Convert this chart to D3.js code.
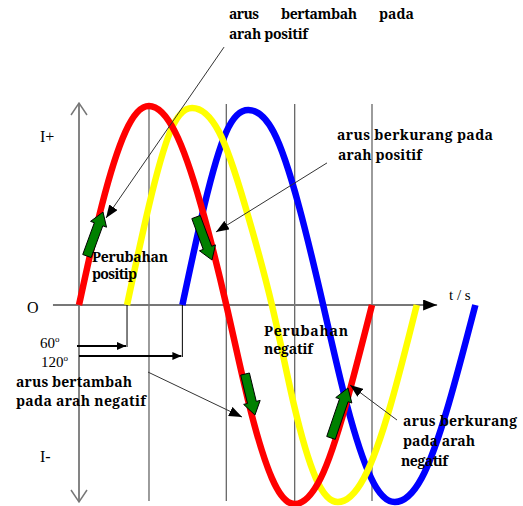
<!DOCTYPE html>
<html>
<head>
<meta charset="utf-8">
<script src="https://cdn.jsdelivr.net/npm/d3@7/dist/d3.min.js"></script>
<style>
body { margin: 0; background: #fff; }
svg { display: block; }
</style>
</head>
<body>
<div id="chart"></div>
<script>
// wave samples: [phase angle in degrees along t, current as fraction of peak]
var redWave = [[0,0],[28,0.5],[57,0.87],[86,1],[118,0.87],[150,0.5],[181,0],[209,-0.5],[237,-0.87],[265,-1],[297,-0.87],[328,-0.5],[360,0]];
var yellowWave = [[59,0],[86,0.5],[112,0.87],[139,0.99],[172,0.87],[204,0.5],[237,0],[264,-0.5],[291,-0.87],[318,-0.99],[350,-0.87],[383,-0.5],[415,0]];
var blueWave = [[127,0],[154,0.5],[181,0.87],[208,0.98],[239,0.87],[270,0.5],[300,0],[329,-0.5],[359,-0.87],[388,-0.99],[421,-0.87],[454,-0.5],[487,0]];

var gridDeg = [86, 181, 265, 360];   // thin vertical lines
var phaseDeg = [59, 127];            // where yellow / blue start
var phaseText = ["60", "120"];
var axisText = ["I+", "O", "I-", "t / s"];

var SERIF = "'Liberation Serif', 'Times New Roman', serif";
var NOTE_FONT = "'Noto Serif', 'Liberation Serif', serif";

WaveVis = function(_parentElement){
	this.parentElement = _parentElement;
	this.initVis();
}

WaveVis.prototype.initVis = function(){
	var vis = this;

	vis.width = 523;
	vis.height = 506;

	vis.svg = d3.select("#" + vis.parentElement).append("svg")
		.attr("width", vis.width)
		.attr("height", vis.height);

	// scales: degrees -> px, current -> px
	vis.x = d3.scaleLinear().domain([0, 360]).range([79, 372]);
	vis.y = d3.scaleLinear().domain([-1, 1]).range([504, 106]);

	var defs = vis.svg.append("defs");
	defs.append("marker")
		.attr("id", "tri").attr("markerUnits", "userSpaceOnUse")
		.attr("markerWidth", 14).attr("markerHeight", 11)
		.attr("refX", 14).attr("refY", 5.5).attr("orient", "auto")
		.append("path").attr("d", "M0,0L14,5.5L0,11Z").attr("fill", "#000");
	defs.append("marker")
		.attr("id", "pointer").attr("markerUnits", "userSpaceOnUse")
		.attr("markerWidth", 13).attr("markerHeight", 10)
		.attr("refX", 13).attr("refY", 5).attr("orient", "auto")
		.append("path").attr("d", "M0,0L13,5L0,10Z").attr("fill", "#000");
	defs.append("marker")
		.attr("id", "small").attr("markerUnits", "userSpaceOnUse")
		.attr("markerWidth", 9).attr("markerHeight", 8)
		.attr("refX", 9).attr("refY", 4).attr("orient", "auto")
		.append("path").attr("d", "M0,0L9,4L0,8Z").attr("fill", "#000");

	vis.line = d3.line()
		.curve(d3.curveNatural)
		.x(function(d){ return vis.x(d[0]); })
		.y(function(d){ return vis.y(d[1]); });

	vis.updateVis();
}

WaveVis.prototype.updateVis = function(){
	var vis = this;
	var x = vis.x, y = vis.y;

	// grid lines
	vis.svg.selectAll(".grid").data(gridDeg).enter().append("line")
		.attr("class", "grid")
		.attr("x1", d => x(d)).attr("x2", d => x(d))
		.attr("y1", y(1.01)).attr("y2", y(-0.985))
		.attr("stroke", "#666").attr("stroke-width", 1.3);

	// vertical axis with open arrow heads
	var x0 = x(0), yTop = y(1.015), yBot = y(-0.99);
	vis.svg.append("line")
		.attr("x1", x0).attr("x2", x0).attr("y1", yTop).attr("y2", yBot)
		.attr("stroke", "#777").attr("stroke-width", 1.8);
	vis.svg.append("path")
		.attr("d", "M" + (x0 - 8) + "," + (yTop + 12) + "L" + x0 + "," + yTop + "L" + (x0 + 8) + "," + (yTop + 12)
			+ "M" + (x0 - 8) + "," + (yBot - 12) + "L" + x0 + "," + yBot + "L" + (x0 + 8) + "," + (yBot - 12))
		.attr("fill", "none").attr("stroke", "#777").attr("stroke-width", 1.5);

	// horizontal axis
	vis.svg.append("line")
		.attr("x1", x(-32)).attr("x2", x(440)).attr("y1", y(0)).attr("y2", y(0))
		.attr("stroke", "#777").attr("stroke-width", 1.8)
		.attr("marker-end", "url(#tri)");

	// waves
	var waves = [[blueWave, "#0000ff"], [yellowWave, "#ffff00"], [redWave, "#ff0000"]];
	vis.svg.selectAll(".wave").data(waves).enter().append("path")
		.attr("class", "wave")
		.attr("d", d => vis.line(d[0]))
		.attr("fill", "none")
		.attr("stroke", d => d[1])
		.attr("stroke-width", 6.5);

	// phase shift markers
	phaseDeg.forEach(function(p, i){
		var yy = [346, 356][i];
		vis.svg.append("line")
			.attr("x1", x(p)).attr("x2", x(p)).attr("y1", y(0)).attr("y2", yy + 1)
			.attr("stroke", "#000").attr("stroke-width", 1);
		vis.svg.append("line")
			.attr("x1", x0 - 2 + i * 2).attr("x2", x(p) - 1).attr("y1", yy).attr("y2", yy)
			.attr("stroke", "#000").attr("stroke-width", 2)
			.attr("marker-end", "url(#small)");
		var t = vis.svg.append("text")
			.attr("font-family", SERIF).attr("font-size", 15)
			.attr("x", 40 + i).attr("y", 348 + i * 19)
			.text(phaseText[i]);
		t.append("tspan").attr("dy", -6).attr("font-size", 9).text("o");
	});

	// green block arrows along the red wave
	function blockArrow(a, b){
		var x1 = x(a[0]), y1 = y(a[1]), x2 = x(b[0]), y2 = y(b[1]);
		var len = Math.hypot(x2 - x1, y2 - y1);
		var ux = (x2 - x1) / len, uy = (y2 - y1) / len;
		var nx = -uy, ny = ux;
		var hx = x2 - ux * 13, hy = y2 - uy * 13;
		var pts = [
			[x1 + nx * 4.5, y1 + ny * 4.5], [hx + nx * 4.5, hy + ny * 4.5], [hx + nx * 8.5, hy + ny * 8.5],
			[x2, y2],
			[hx - nx * 8.5, hy - ny * 8.5], [hx - nx * 4.5, hy - ny * 4.5], [x1 - nx * 4.5, y1 - ny * 4.5]
		];
		vis.svg.append("path")
			.attr("d", "M" + pts.join("L") + "Z")
			.attr("fill", "#008000").attr("stroke", "#000").attr("stroke-width", 1);
	}
	blockArrow([9.8, 0.246], [29.5, 0.467]);
	blockArrow([143.8, 0.442], [163.4, 0.226]);
	blockArrow([204, -0.347], [216.2, -0.553]);
	blockArrow([309.6, -0.668], [330.5, -0.417]);

	// pointer lines from the notes
	function pointer(a, b){
		vis.svg.append("line")
			.attr("x1", x(a[0])).attr("y1", y(a[1])).attr("x2", x(b[0])).attr("y2", y(b[1]))
			.attr("stroke", "#333").attr("stroke-width", 1)
			.attr("marker-end", "url(#pointer)");
	}
	pointer([178.2, 1.296], [33.2, 0.437]);
	pointer([304.7, 0.714], [168.3, 0.367]);
	pointer([84.8, -0.337], [200.3, -0.563]);
	pointer([390.7, -0.578], [333, -0.402]);

	// axis labels
	var axPos = [[40, 142], [27, 313], [40, 462], [449, 300]];
	axisText.forEach(function(s, i){
		vis.svg.append("text")
			.attr("font-family", SERIF)
			.attr("font-size", i == 3 ? 15 : 16)
			.attr("x", axPos[i][0]).attr("y", axPos[i][1])
			.text(s);
	});

	// notes
	function note(s, px, py, w){
		vis.svg.append("text")
			.attr("font-family", NOTE_FONT).attr("font-weight", "bold").attr("font-size", 14)
			.attr("x", px).attr("y", py)
			.attr("textLength", w).attr("lengthAdjust", "spacing")
			.text(s);
	}
	note("arus", 229, 19, 30);
	note("bertambah", 281, 19, 76);
	note("pada", 379, 19, 35);
	note("arah positif", 229, 39, 79);
	note("arus berkurang pada", 337, 140, 156);
	note("arah positif", 338, 160, 84);
	note("Perubahan", 92, 262, 76);
	note("positip", 92, 279, 45);
	note("Perubahan", 264, 336, 84);
	note("negatif", 264, 354, 49);
	note("arus bertambah", 16, 387, 116);
	note("pada arah negatif", 16, 406, 130);
	note("arus berkurang", 403, 426, 114);
	note("pada arah", 403, 446, 72);
	note("negatif", 401, 466, 47);
}

new WaveVis("chart");
</script>
</body>
</html>
